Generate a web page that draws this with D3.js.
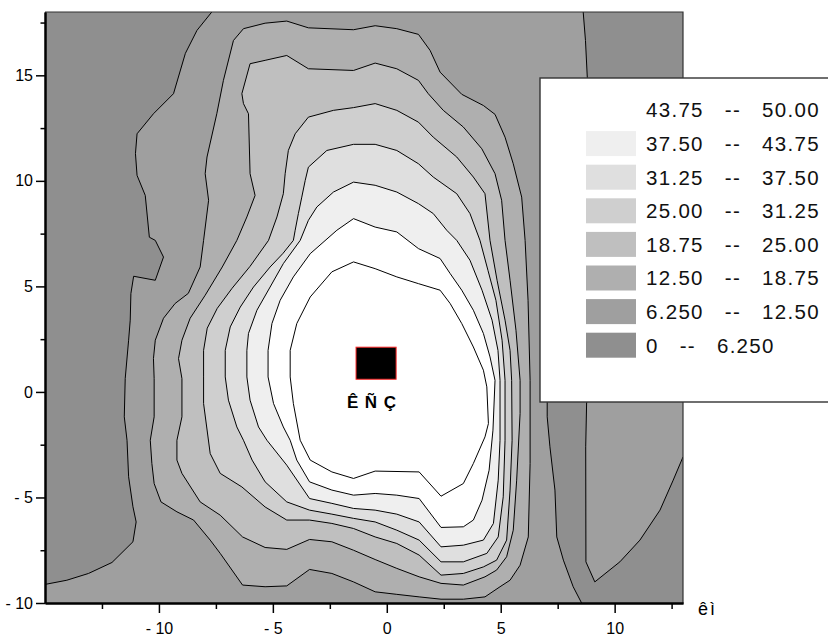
<!DOCTYPE html>
<html>
<head>
<meta charset="utf-8">
<script src="https://cdn.jsdelivr.net/npm/d3@7"></script>
<style>
  body { margin: 0; background: #fff; }
  svg { display: block; font-family: Arial, "Liberation Sans", sans-serif; }
</style>
</head>
<body>
<script>
// Contour levels and legend text
var levels = [0, 6.25, 12.5, 18.75, 25, 31.25, 37.5, 43.75, 50];
var legendLow = ["43.75", "37.50", "31.25", "25.00", "18.75", "12.50", "6.250", "0"];
var legendHigh = ["50.00", "43.75", "37.50", "31.25", "25.00", "18.75", "12.50", "6.250"];

// Axis ticks
var xTicks = [-10, -5, 0, 5, 10];
var xTickLabels = ["- 10", "- 5", "0", "5", "10"];
var xMinor = [-12.5, -7.5, -2.5, 2.5, 7.5, 12.5];
var yTicks = [-10, -5, 0, 5, 10, 15];
var yTickLabels = ["- 10", "- 5", "0", "5", "10", "15"];
var yMinor = [-7.5, -2.5, 2.5, 7.5, 12.5, 17.5];
var xTitle = "êì";

// 6.25 contour: open lines that end on the frame
var line625Left = [[-7.68, 18], [-8.33, 17.13], [-8.84, 16.04], [-9.36, 14.13], [-10.24, 13.18], [-10.96, 12.23],
  [-11.03, 11.29], [-10.96, 10.26], [-10.6, 9.31], [-10.42, 7.33], [-10.16, 7.18], [-9.8, 6.39], [-10.16, 5.29],
  [-11.11, 5.48], [-11.23, 4.66], [-11.26, 3.4], [-11.33, 2.45], [-11.48, 0.63], [-11.52, -1.18], [-11.4, -2.29],
  [-11.33, -4.02], [-11.14, -5.44], [-11.0, -6.16], [-11.14, -7.1], [-12.06, -8.08], [-13.09, -8.6], [-14.04, -8.92], [-15, -9.12]];
var line625Right = [[8.62, 18], [8.72, 16.65], [8.8, 14.89], [8.9, 12], [8.7, 8], [8.1, 4], [7.3, 1], [7.04, -0.49],
  [7.04, -1.18], [7.16, -2.6], [7.38, -4.65], [7.46, -6.87], [7.75, -7.97], [8.18, -9.23], [8.55, -10]];
var line625Island = [[13, 3.5], [10.5, 2], [9.2, 0.8], [8.77, -0.52], [8.73, -2.6], [8.74, -8.05], [9.13, -9.0],
  [10.23, -8.05], [11.11, -7.02], [11.99, -5.6], [12.57, -4.18], [13, -3.08]];

// closed contours
var loop1250 = [[-6.29, 17.21], [-5.34, 17.47], [-4.39, 17.57], [-3.44, 17.25], [-1.46, 17.16], [-0.51, 17.35], [0.44, 17.21],
  [1.39, 16.94], [1.9, 16.18], [2.34, 15.15], [3.29, 14.1], [4.24, 13.57], [4.75, 13.15], [5.19, 12.07], [5.55, 10.81],
  [5.92, 9.23], [6.07, 7.18], [6.2, 4.34], [6.29, 0.55], [6.29, -3.39], [6.21, -6.87], [5.85, -8.21], [5.41, -8.92],
  [4.97, -9.23], [4.31, -9.71], [3.36, -9.82], [2.38, -9.82], [1.42, -9.71], [0.44, -9.59], [-0.51, -9.47], [-1.46, -9.0],
  [-2.41, -8.6], [-3.39, -8.41], [-4.39, -9.19], [-5.34, -9.23], [-6.33, -9.15], [-7.31, -7.65], [-7.75, -7.02],
  [-8.48, -6.07], [-9.21, -5.68], [-9.91, -5.21], [-10.21, -4.34], [-10.31, -3.39], [-10.38, -2.29], [-10.21, -1.18],
  [-10.21, 0.63], [-10.24, 1.58], [-10.16, 2.45], [-9.8, 3.49], [-9.29, 4.19], [-8.71, 4.67], [-8.19, 5.92],
  [-8.04, 7.18], [-7.82, 9.08], [-7.97, 10.34], [-7.89, 11.13], [-7.46, 13.18], [-7.17, 14.76], [-6.73, 16.65]];
var loop1875 = [[-6.36, 14.13], [-6.0, 15.55], [-5.34, 15.71], [-4.39, 15.94], [-3.44, 15.31], [-1.46, 15.23], [-0.51, 15.58],
  [0.44, 15.31], [1.39, 14.76], [1.82, 14.13], [2.48, 13.34], [3.36, 12.55], [4.17, 11.52], [4.75, 10.34], [5.04, 9.08],
  [5.19, 7.18], [5.41, 5.29], [5.67, 2.92], [5.85, 0.55], [5.85, -1.02], [5.7, -4.18], [5.55, -6.55], [5.26, -7.81],
  [4.82, -8.44], [4.31, -8.76], [3.36, -9.15], [2.38, -9.07], [1.42, -8.76], [0.44, -8.36], [-0.51, -7.94], [-1.46, -7.5],
  [-2.41, -7.1], [-3.39, -6.99], [-4.39, -7.46], [-5.34, -7.37], [-6.33, -6.87], [-7.31, -5.84], [-8.19, -5.21],
  [-8.99, -3.86], [-9.21, -3.23], [-9.21, -2.29], [-8.99, -1.18], [-8.99, 0.63], [-9.14, 1.58], [-8.99, 2.45],
  [-8.63, 3.49], [-7.97, 4.58], [-7.22, 5.92], [-6.58, 7.18], [-6.14, 8.29], [-5.78, 9.31], [-6.0, 10.34], [-6.07, 13.18], [-6.29, 13.66]];
var loop2500 = [[-4.02, 12.23], [-3.44, 13.02], [-2.34, 13.34], [-1.46, 13.47], [-0.51, 13.66], [0.44, 13.34], [1.39, 12.78],
  [2.04, 12.07], [3.07, 11.13], [3.8, 10.18], [4.31, 9.39], [4.53, 7.18], [4.84, 5.29], [5.19, 3.4], [5.41, 1.97],
  [5.48, 0.55], [5.5, -2.29], [5.41, -4.65], [5.26, -7.02], [4.82, -7.97], [4.24, -8.29], [3.36, -8.6], [2.38, -8.68],
  [1.42, -7.73], [0.44, -7.18], [-0.51, -6.87], [-1.46, -6.47], [-2.41, -6.23], [-3.39, -6.07], [-4.39, -6.07],
  [-5.34, -5.45], [-6.36, -4.5], [-7.31, -3.86], [-7.75, -2.92], [-8.04, -0.55], [-8.04, 0.71], [-8.04, 1.97],
  [-7.88, 3.02], [-7.44, 3.96], [-6.79, 4.91], [-6.0, 5.95], [-5.19, 7.18], [-4.82, 8.29], [-4.54, 9.39], [-4.46, 10.34], [-4.32, 11.44]];
var loop3125 = [[-3.44, 10.65], [-2.63, 11.44], [-1.46, 11.73], [-0.51, 11.73], [0.44, 11.44], [1.39, 10.81], [2.04, 10.18],
  [3.07, 9.39], [3.65, 8.45], [4.09, 7.18], [4.44, 5.76], [4.79, 4.34], [5.06, 2.45], [5.19, 0.55], [5.19, -2.29],
  [5.11, -4.97], [4.89, -6.87], [4.39, -7.65], [3.36, -8.05], [2.38, -8.05], [1.42, -7.02], [0.44, -6.55], [-0.51, -6.16],
  [-1.46, -5.99], [-2.41, -5.79], [-3.39, -5.6], [-4.39, -5.21], [-5.34, -4.26], [-5.91, -3.23], [-6.29, -2.29],
  [-6.58, -1.66], [-6.95, -0.39], [-7.09, 0.71], [-7.09, 1.97], [-6.87, 3.08], [-6.43, 4.02], [-5.85, 4.97],
  [-5.12, 5.92], [-4.55, 6.57], [-4.1, 7.18], [-4.02, 7.66], [-3.88, 8.45], [-3.73, 9.23], [-3.58, 10.02]];
var loop3750 = [[-2.34, 9.47], [-1.46, 9.94], [-0.51, 9.79], [0.44, 9.47], [1.39, 8.92], [2.04, 8.45], [2.63, 7.66],
  [3.07, 7.18], [3.65, 6.24], [4.18, 4.82], [4.62, 3.4], [4.88, 1.97], [4.97, 0.55], [4.97, -2.29], [4.89, -4.18],
  [4.68, -6.23], [4.24, -7.02], [3.36, -7.26], [2.38, -7.34], [1.42, -6.16], [0.44, -5.79], [-0.51, -5.6], [-1.46, -5.52],
  [-2.41, -5.28], [-3.39, -5.05], [-4.39, -3.47], [-5.26, -2.29], [-5.63, -1.66], [-6.0, -0.39], [-6.14, 0.71],
  [-6.14, 1.97], [-6.07, 2.77], [-5.7, 3.87], [-5.12, 4.97], [-4.54, 6.08], [-3.8, 7.18], [-3.44, 8.13], [-3.07, 8.76]];
var loop4375 = [[-2.19, 7.66], [-1.46, 8.21], [-0.51, 7.81], [0.44, 7.58], [1.39, 6.79], [2.34, 6.32], [2.78, 5.61],
  [3.29, 4.82], [3.8, 3.87], [4.24, 2.77], [4.53, 1.66], [4.75, 0.55], [4.66, -1.81], [4.49, -3.71], [4.18, -5.13],
  [3.8, -6.07], [3.36, -6.39], [2.38, -6.42], [1.42, -5.05], [0.44, -4.89], [-0.51, -4.81], [-1.46, -4.89], [-2.41, -4.65],
  [-3.39, -4.26], [-3.95, -3.23], [-4.24, -2.29], [-4.54, -1.66], [-4.97, -0.55], [-5.21, 0.71], [-5.21, 1.97],
  [-5.04, 3.24], [-4.68, 4.34], [-4.1, 5.45], [-3.36, 6.55]];
var loop5000 = [[-1.46, 6.16], [-0.51, 5.84], [0.44, 5.45], [1.39, 5.13], [2.34, 4.82], [2.78, 4.19], [3.29, 3.24],
  [3.8, 2.13], [4.24, 1.03], [4.39, 0.24], [4.46, -1.5], [4.31, -2.13], [3.8, -3.39], [3.36, -4.34], [2.38, -4.94],
  [1.42, -3.79], [-0.51, -3.75], [-1.46, -4.1], [-2.41, -3.79], [-3.36, -3.23], [-3.8, -2.29], [-4.1, -0.55],
  [-4.24, 0.71], [-4.24, 1.97], [-3.95, 3.24], [-3.36, 4.5], [-2.41, 5.69]];

// source marker and its label
var sourceBox = [[-1.35, 0.6], [0.41, 2.12]];
var sourceLabel = "ÊÑÇ";

// Define SVG area and plot margins
var svgWidth = 828;
var svgHeight = 639;
var margin = { top: 12, right: 145, bottom: 36, left: 45 };
var width = svgWidth - margin.left - margin.right;
var height = svgHeight - margin.top - margin.bottom;

var svg = d3.select("body").append("svg")
  .attr("width", svgWidth)
  .attr("height", svgHeight);

var x = d3.scaleLinear().domain([-15, 13]).range([0, width]);
var y = d3.scaleLinear().domain([-10, 18]).range([height, 0]);
var color = d3.scaleLinear().domain([0, 43.75]).range(["#8f8f8f", "#ffffff"]).clamp(true);

var g = svg.append("g").attr("transform", `translate(${margin.left}, ${margin.top})`);
g.append("clipPath").attr("id", "plotClip")
  .append("rect").attr("width", width).attr("height", height);
var plot = g.append("g").attr("clip-path", "url(#plotClip)");

var line = d3.line().x(d => x(d[0])).y(d => y(d[1]));

// lowest band fills the whole frame
plot.append("rect")
  .attr("width", width)
  .attr("height", height)
  .attr("fill", color(levels[0]));

// region above 6.25, closed along the frame
var xd = x.domain(), yd = y.domain();
var area625 = line625Left.concat([[xd[0], yd[0]]], line625Right.slice().reverse());
plot.append("path")
  .attr("d", line(area625) + "Z")
  .attr("fill", color(levels[1]));
plot.append("path")
  .attr("d", line(line625Island) + "Z")
  .attr("fill", color(levels[1]));

var loops = [
  { level: levels[2], pts: loop1250 },
  { level: levels[3], pts: loop1875 },
  { level: levels[4], pts: loop2500 },
  { level: levels[5], pts: loop3125 },
  { level: levels[6], pts: loop3750 },
  { level: levels[7], pts: loop4375 },
  { level: levels[8], pts: loop5000 }
];

plot.selectAll(".band")
  .data(loops)
  .enter()
  .append("path")
  .attr("class", "band")
  .attr("d", d => line(d.pts) + "Z")
  .attr("fill", d => color(d.level));

// contour lines
[line625Left, line625Right, line625Island].forEach(function(pts) {
  plot.append("path")
    .attr("d", line(pts))
    .attr("fill", "none")
    .attr("stroke", "#000")
    .attr("stroke-width", 1);
});
plot.selectAll(".iso")
  .data(loops)
  .enter()
  .append("path")
  .attr("class", "iso")
  .attr("d", d => line(d.pts) + "Z")
  .attr("fill", "none")
  .attr("stroke", "#000")
  .attr("stroke-width", 1);

// frame top and right
g.append("path")
  .attr("d", `M0,0H${width}V${height}`)
  .attr("fill", "none")
  .attr("stroke", "#333")
  .attr("stroke-width", 1.2);

// source marker
g.append("rect")
  .attr("x", x(sourceBox[0][0]))
  .attr("y", y(sourceBox[1][1]))
  .attr("width", x(sourceBox[1][0]) - x(sourceBox[0][0]))
  .attr("height", y(sourceBox[0][1]) - y(sourceBox[1][1]))
  .attr("fill", "#000")
  .attr("stroke", "#ff2a2a")
  .attr("stroke-width", 1);
g.append("text")
  .attr("x", x(sourceBox[0][0]) - 9)
  .attr("y", y(sourceBox[0][1]) + 29)
  .attr("font-size", 17)
  .attr("font-weight", "bold")
  .attr("letter-spacing", 6.5)
  .text(sourceLabel);

// axes
var bottomAxis = d3.axisBottom(x).tickValues(xTicks)
  .tickFormat((d, i) => xTickLabels[i]).tickSize(10).tickSizeOuter(0).tickPadding(10);
var bottomMinor = d3.axisBottom(x).tickValues(xMinor).tickFormat("").tickSize(6).tickSizeOuter(0);
var leftAxis = d3.axisLeft(y).tickValues(yTicks)
  .tickFormat((d, i) => yTickLabels[i]).tickSize(9).tickSizeOuter(0).tickPadding(3);
var leftMinor = d3.axisLeft(y).tickValues(yMinor).tickFormat("").tickSize(4.5).tickSizeOuter(0);

g.append("g").attr("transform", `translate(0, ${height})`).call(bottomMinor);
g.append("g").call(leftMinor);
var xg = g.append("g").attr("transform", `translate(0, ${height})`).call(bottomAxis);
var yg = g.append("g").call(leftAxis);

g.selectAll(".tick line").attr("stroke", "#000").attr("stroke-width", 1.5);
g.selectAll(".domain").attr("stroke", "#000").attr("stroke-width", 2);
g.selectAll(".tick text")
  .attr("fill", "#000")
  .style("font-size", "16px")
  .style("font-family", "Arial, 'Liberation Sans', sans-serif");

g.append("text")
  .attr("x", width + 15)
  .attr("y", height + 12)
  .attr("font-size", 18)
  .attr("letter-spacing", 2)
  .attr("fill", "#000")
  .text(xTitle);

// legend box (covers part of the plot)
var legend = svg.append("g").attr("transform", "translate(540, 78)");
legend.append("rect")
  .attr("width", 300)
  .attr("height", 324)
  .attr("fill", "#fff")
  .attr("stroke", "#333")
  .attr("stroke-width", 1.4);

var rows = legend.selectAll(".row")
  .data(legendLow)
  .enter()
  .append("g")
  .attr("class", "row")
  .attr("transform", (d, i) => `translate(0, ${32 + i * 33.6})`);

rows.append("rect")
  .attr("x", 46)
  .attr("y", -12.5)
  .attr("width", 50)
  .attr("height", 25)
  .attr("fill", (d, i) => color(levels[levels.length - 2 - i]));

rows.append("text")
  .attr("x", 106)
  .attr("y", 7.3)
  .attr("font-size", 20.5)
  .attr("letter-spacing", 1.3)
  .attr("fill", "#111")
  .style("white-space", "pre")
  .text((d, i) => `${d}   --   ${legendHigh[i]}`);
</script>
</body>
</html>
